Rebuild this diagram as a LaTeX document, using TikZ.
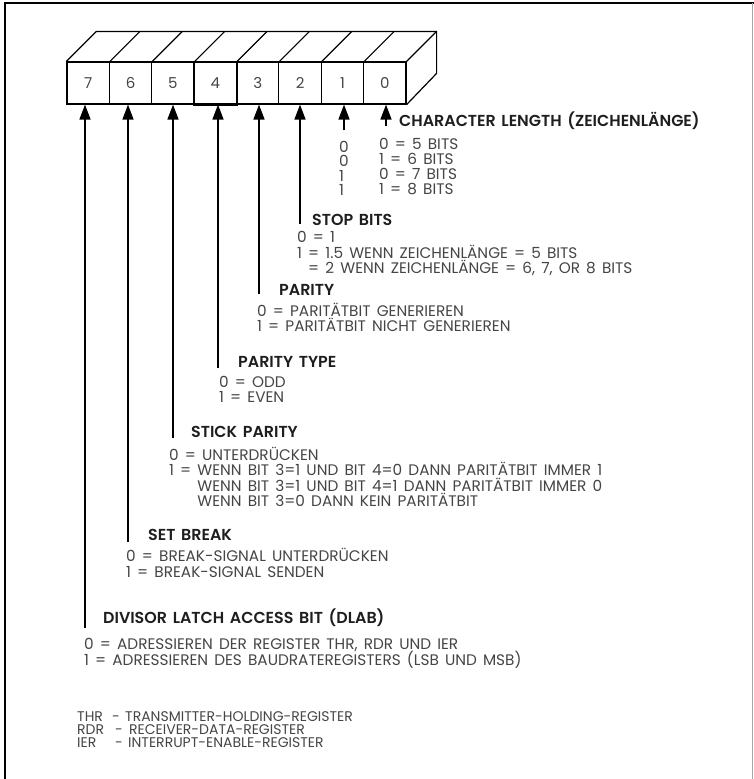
\documentclass[tikz,border=0pt]{standalone}
\usepackage{fontspec}
\setmainfont{Poppins}[WordSpace=1.5,BoldFont={* SemiBold}]
\usetikzlibrary{arrows.meta,calc}
\definecolor{bodyc}{HTML}{454545}
\definecolor{hdrc}{HTML}{1E1E1E}
\begin{document}
\begin{tikzpicture}[x=1pt,y=-1pt,
  txt/.style={anchor=base west,inner sep=0pt,text=bodyc,font=\fontsize{15.3}{15}\selectfont},
  hdr/.style={anchor=base west,inner sep=0pt,text=hdrc,font=\fontsize{15.9}{15}\selectfont\bfseries},
  foot/.style={anchor=base west,inner sep=0pt,text=bodyc,font=\fontsize{14}{13}\selectfont},
  cell/.style={draw,line width=1.2pt,minimum width=42.375pt,minimum height=42pt,inner sep=0pt,text=bodyc,font=\fontsize{15}{15}\selectfont},
  bitarrow/.style={line width=1.6pt,-{Triangle[length=15pt,width=11pt]}},
  edge/.style={line width=1.2pt,line join=round}]
\useasboundingbox (0,0) rectangle (754,779);
% frame
\draw[line width=1.2pt] (5,779) -- (5,3) -- (754,3);
\draw[line width=0.8pt,black!35] (752.5,3) -- (752.5,779);
% register cells
\foreach \b [count=\i from 0] in {7,6,5,4,3,2,1,0}
  \node[cell] (c\b) at ({67+42.375*(\i+0.5)},83) {\b};
\draw[line width=1.8pt] (c4.north west) rectangle (c4.south east);
% top and right faces
\coordinate (bl) at ($(c7.north west)+(30,-30)$);
\coordinate (br) at ($(c0.north east)+(30,-30)$);
\draw[edge] (c7.north west) -- (bl) -- (br) -- ++(0,42) -- (c0.south east);
\foreach \b in {7,6,5,4,3,2,1,0}
  \draw[edge] (c\b.north east) -- ++(30,-30);
% arrow feet
\coordinate (a0) at (386,126);
\coordinate (a1) at (344,130);
\coordinate (a2) at (300,224);
\coordinate (a3) at (259,294);
\coordinate (a4) at (218,368);
\coordinate (a5) at (173,438);
\coordinate (a6) at (128,542);
\coordinate (a7) at (85,628);
\foreach \b in {0,...,7}
  \draw[bitarrow] (a\b) -- (a\b |- c\b.south);
% bits 0/1
\node[hdr] (h0) at (399,126) {CHARACTER LENGTH (ZEICHENLÄNGE)};
\node[txt] (d1) at (339,152) {0};
\node[txt] (d2) at (339,166.5) {0};
\node[txt] (d3) at (339,181) {1};
\node[txt] (d4) at (339,195.5) {1};
\node[txt] (e1) at (379,149) {0 = 5 BITS};
\node[txt] (e2) at (379,164) {1 = 6 BITS};
\node[txt] (e3) at (379,179) {0 = 7 BITS};
\node[txt] (e4) at (379,194) {1 = 8 BITS};
% bit 2
\node[hdr] (h2) at (312,225) {STOP BITS};
\node[txt] (s1) at (297,242) {0 = 1};
\node[txt] (s2) at (297,258) {1 = 1.5 WENN ZEICHENLÄNGE = 5 BITS};
\node[txt] (s3) at (297,273) {\phantom{1} = 2 WENN ZEICHENLÄNGE = 6, 7, OR 8 BITS};
% bit 3
\node[hdr] (h3) at (279,295) {PARITY};
\node[txt] (p1) at (257,316) {0 = PARITÄTBIT GENERIEREN};
\node[txt] (p2) at (257,331) {1 = PARITÄTBIT NICHT GENERIEREN};
% bit 4
\node[hdr] (h4) at (238,367) {PARITY TYPE};
\node[txt] (t1) at (219,387) {0 = ODD};
\node[txt] (t2) at (219,402) {1 = EVEN};
% bit 5
\node[hdr] (h5) at (191,437) {STICK PARITY};
\node[txt] (k1) at (169,460) {0 = UNTERDRÜCKEN};
\node[txt] (k2) at (169,475) {1 = WENN BIT 3=1 UND BIT 4=0 DANN PARITÄTBIT IMMER 1};
\node[txt] (k3) at (169,491) {\phantom{1 = }WENN BIT 3=1 UND BIT 4=1 DANN PARITÄTBIT IMMER 0};
\node[txt] (k4) at (169,506) {\phantom{1 = }WENN BIT 3=0 DANN KEIN PARITÄTBIT};
% bit 6
\node[hdr] (h6) at (148,540) {SET BREAK};
\node[txt] (b1) at (126,561) {0 = BREAK-SIGNAL UNTERDRÜCKEN};
\node[txt] (b2) at (126,577) {1 = BREAK-SIGNAL SENDEN};
% bit 7
\node[hdr] (h7) at (103,623) {DIVISOR LATCH ACCESS BIT (DLAB)};
\node[txt] (l1) at (84,649) {0 = ADRESSIEREN DER REGISTER THR, RDR UND IER};
\node[txt] (l2) at (84,665) {1 = ADRESSIEREN DES BAUDRATEREGISTERS (LSB UND MSB)};
% footnote
\node[foot] (f1) at (77,721) {THR};
\node[foot] (f2) at (77,734) {RDR};
\node[foot] (f3) at (77,747) {IER};
\node[foot] (g1) at (112,721) {-};
\node[foot] (g2) at (115,734) {-};
\node[foot] (g3) at (115,747) {-};
\node[foot] (m1) at (125,721) {TRANSMITTER-HOLDING-REGISTER};
\node[foot] (m2) at (129,734) {RECEIVER-DATA-REGISTER};
\node[foot] (m3) at (128,747) {INTERRUPT-ENABLE-REGISTER};
\end{tikzpicture}
\end{document}
